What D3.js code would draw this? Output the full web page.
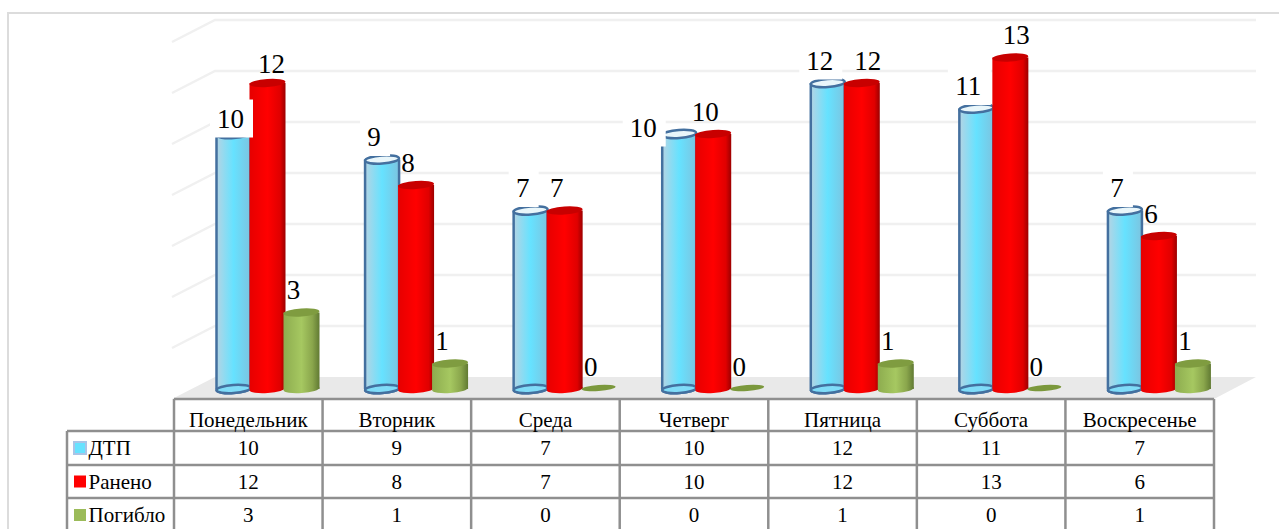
<!DOCTYPE html>
<html>
<head>
<meta charset="utf-8">
<script src="https://cdnjs.cloudflare.com/ajax/libs/d3/7.8.5/d3.min.js"></script>
<style>
  html, body { margin: 0; padding: 0; background: #fff; overflow: hidden; }
  text { font-family: "Liberation Serif", serif; fill: #000; }
</style>
</head>
<body>
<div class="chart"></div>
<script>
// data
var days = ["Понедельник", "Вторник", "Среда", "Четверг", "Пятница", "Суббота", "Воскресенье"];
var seriesNames = ["ДТП", "Ранено", "Погибло"];
var dtp = [10, 9, 7, 10, 12, 11, 7];
var raneno = [12, 8, 7, 10, 12, 13, 6];
var pogiblo = [3, 1, 0, 0, 1, 0, 1];
var gridTicks = [0, 2, 4, 6, 8, 10, 12, 14];

var seriesValues = [dtp, raneno, pogiblo];

// hand moved data labels, as in the original chart: [day index, series index, dx, dy]
var labelMoves = [
  [0, 0, 5, 7], [3, 0, -28, 16],
  [0, 1, 12, 3], [4, 1, 14, 0], [5, 1, 14, 0]
];

var svgWidth = 1279;
var svgHeight = 529;

var svg = d3.select(".chart")
  .append("svg")
  .attr("width", svgWidth)
  .attr("height", svgHeight)
  .style("display", "block");

// gradients for the cylinders
var defs = svg.append("defs");
function addGradient(id, stops) {
  var g = defs.append("linearGradient").attr("id", id);
  stops.forEach(function(s) {
    g.append("stop").attr("offset", s[0]).attr("stop-color", s[1]);
  });
}
addGradient("gradBlue", [[0, "#b4d4e4"], [0.5, "#66e2ff"], [1, "#7cc4e0"]]);
addGradient("gradRed", [[0, "#e60000"], [0.5, "#ff0000"], [0.85, "#e00000"], [1, "#9c0000"]]);
addGradient("gradGreen", [[0, "#8dac4f"], [0.5, "#a6c861"], [0.8, "#8aa64c"], [1, "#617a33"]]);

var seriesStyle = [
  { side: "url(#gradBlue)", top: "#e9f6fa", bottom: "#7fdcf8", stroke: "#44709f", rx: 17 },
  { side: "url(#gradRed)", top: "#c80000", bottom: "#e00000", stroke: "none", rx: 18 },
  { side: "url(#gradGreen)", top: "#7f9c40", bottom: "#8aa64c", stroke: "none", rx: 18 }
];

// scales
var tableLeft = 174, tableRight = 1214;
var x = d3.scaleBand().domain(days).range([tableLeft, tableRight]);
var xSeries = d3.scalePoint().domain(seriesNames).range([59.5, 127.5]);
var y = d3.scaleLinear().domain([0, 14]).range([389, 32]);
var depthBack = 12, depthFront = 10;

// chart frame
svg.append("path")
  .attr("d", "M8,529V13H1279")
  .attr("fill", "none")
  .attr("stroke", "#dcdcdc")
  .attr("stroke-width", 2);

// grid on the wall and the side
var grid = svg.append("g").attr("fill", "none").attr("stroke", "#f0f0f0").attr("stroke-width", 2.5);
gridTicks.slice(1).forEach(function(t) {
  grid.append("path")
    .attr("d", `M172,${y(t) + depthFront}L215,${y(t) - depthBack}H1256`);
});

// floor
svg.append("polygon")
  .attr("points", `172,${y(0) + depthFront} 215,${y(0) - depthBack} 1256,${y(0) - depthBack} 1214,${y(0) + depthFront}`)
  .attr("fill", "#e9e9e9");

// cylinders
var bars = svg.append("g");
days.forEach(function(day, d) {
  seriesNames.forEach(function(name, s) {
    var v = seriesValues[s][d];
    var st = seriesStyle[s];
    var cx = x(day) + xSeries(name);
    var g = bars.append("g");
    if (v === 0) {
      g.append("ellipse")
        .attr("cx", cx).attr("cy", y(0) - 1).attr("rx", st.rx - 1).attr("ry", 3)
        .attr("transform", `rotate(-4 ${cx} ${y(0) - 1})`)
        .attr("fill", "#7b983c");
      return;
    }
    g.append("ellipse")
      .attr("cx", cx).attr("cy", y(0)).attr("rx", st.rx).attr("ry", 4)
      .attr("transform", `rotate(-4 ${cx} ${y(0)})`)
      .attr("fill", st.side)
      .attr("stroke", st.stroke).attr("stroke-width", 2.5);
    g.append("rect")
      .attr("x", cx - st.rx).attr("width", st.rx * 2)
      .attr("y", y(v)).attr("height", y(0) - y(v))
      .attr("fill", st.side);
    if (s === 0) {
      // glass look of the blue ones: outline and the inner bottom
      g.append("path")
        .attr("d", `M${cx - st.rx},${y(0)}V${y(v)}M${cx + st.rx},${y(0)}V${y(v)}`)
        .attr("fill", "none")
        .attr("stroke", st.stroke).attr("stroke-width", 2.5);
      g.append("ellipse")
        .attr("cx", cx).attr("cy", y(0)).attr("rx", st.rx).attr("ry", 4)
        .attr("transform", `rotate(-4 ${cx} ${y(0)})`)
        .attr("fill", st.bottom)
        .attr("stroke", st.stroke).attr("stroke-width", 2.5);
    }
    g.append("ellipse")
      .attr("cx", cx).attr("cy", y(v)).attr("rx", st.rx).attr("ry", 4)
      .attr("transform", `rotate(-4 ${cx} ${y(v)})`)
      .attr("fill", st.top)
      .attr("stroke", st.stroke).attr("stroke-width", 2.5);
  });
});

// data labels, blue series has white boxes behind them
var labels = svg.append("g");
days.forEach(function(day, d) {
  seriesNames.forEach(function(name, s) {
    var v = seriesValues[s][d];
    var move = labelMoves.filter(function(m) { return m[0] === d && m[1] === s; })[0];
    var lx = x(day) + xSeries(name) - 8 + (move ? move[2] : 0);
    var ly = y(v) - 22.5 + (move ? move[3] : 0);
    if (s === 0) {
      var boxW = String(v).length > 1 ? 43 : 30;
      labels.append("rect")
        .attr("x", lx - boxW / 2 + 1).attr("y", ly - 19)
        .attr("width", boxW).attr("height", 38)
        .attr("fill", "#fff");
    }
    labels.append("text")
      .attr("x", lx).attr("y", ly)
      .attr("dy", "0.35em")
      .attr("text-anchor", "middle")
      .attr("font-size", 27)
      .text(v);
  });
});

// data table under the chart
var rowY = [399, 431, 465, 498, 532];
var legendLeft = 67;
var table = svg.append("g");

table.append("rect")
  .attr("x", tableLeft).attr("y", rowY[0])
  .attr("width", tableRight - tableLeft).attr("height", svgHeight - rowY[0])
  .attr("fill", "#fff");
table.append("rect")
  .attr("x", legendLeft).attr("y", rowY[1])
  .attr("width", tableLeft - legendLeft).attr("height", svgHeight - rowY[1])
  .attr("fill", "#fff");

var lines = table.append("g").attr("stroke", "#8f8f8f").attr("stroke-width", 2.5).attr("fill", "none");
rowY.slice(0, 4).forEach(function(ry, i) {
  lines.append("line")
    .attr("x1", i === 0 ? tableLeft : legendLeft).attr("x2", tableRight)
    .attr("y1", ry).attr("y2", ry);
});
lines.append("line").attr("x1", legendLeft).attr("x2", legendLeft).attr("y1", rowY[1]).attr("y2", svgHeight);
days.forEach(function(day) {
  lines.append("line").attr("x1", x(day)).attr("x2", x(day)).attr("y1", rowY[0]).attr("y2", svgHeight);
});
lines.append("line").attr("x1", tableRight).attr("x2", tableRight).attr("y1", rowY[0]).attr("y2", svgHeight);

table.selectAll(".dayLabel")
  .data(days)
  .enter()
  .append("text")
  .attr("class", "dayLabel")
  .attr("x", d => x(d) + x.bandwidth() / 2)
  .attr("y", 420)
  .attr("dy", "0.35em")
  .attr("text-anchor", "middle")
  .attr("font-size", 21)
  .text(d => d);

var keyColors = ["#66e2ff", "#ff0000", "#9bbb59"];
seriesNames.forEach(function(name, s) {
  var cy = (rowY[s + 1] + rowY[s + 2]) / 2;
  table.append("rect")
    .attr("x", 74).attr("y", cy - 6)
    .attr("width", 12).attr("height", 12)
    .attr("fill", keyColors[s])
    .attr("stroke", s === 0 ? "#a9c4e6" : "none")
    .attr("stroke-width", 2);
  table.append("text")
    .attr("x", 88.5).attr("y", cy)
    .attr("dy", "0.35em")
    .attr("font-size", 21)
    .text(name);
  days.forEach(function(day, d) {
    table.append("text")
      .attr("x", x(day) + x.bandwidth() / 2).attr("y", cy)
      .attr("dy", "0.35em")
      .attr("text-anchor", "middle")
      .attr("font-size", 21)
      .text(seriesValues[s][d]);
  });
});
</script>
</body>
</html>
